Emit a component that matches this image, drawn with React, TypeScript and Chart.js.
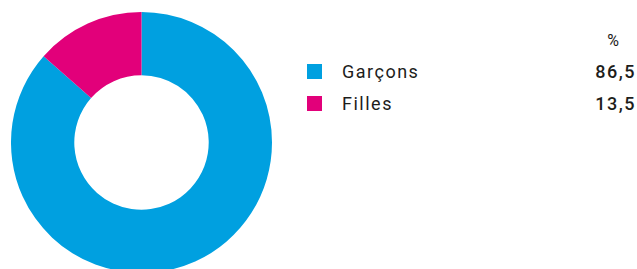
import React, { useEffect, useRef } from "react";
import { Chart, registerables } from "chart.js";

Chart.register(...registerables);

const categories = ["Garçons", "Filles"];
const values = [86.5, 13.5];
const valueLabels = ["86,5", "13,5"];
const colors = ["#00A0E0", "#E2007A"];
const unitLabel = "%";

export default function App() {
  const canvasRef = useRef<HTMLCanvasElement | null>(null);

  useEffect(() => {
    if (!canvasRef.current) return;
    const chart = new Chart(canvasRef.current, {
      type: "doughnut",
      data: {
        labels: categories,
        datasets: [
          {
            data: values,
            backgroundColor: colors,
            borderWidth: 0,
            hoverOffset: 0,
          },
        ],
      },
      options: {
        responsive: false,
        animation: false,
        cutout: "51.5%",
        rotation: 0,
        layout: { padding: 0 },
        plugins: {
          legend: { display: false },
          tooltip: { enabled: false },
        },
      },
    });
    return () => chart.destroy();
  }, []);

  const font = "Roboto, 'Noto Sans', sans-serif";
  const textColor = "#1d1d1b";

  return (
    <div
      style={{
        position: "absolute",
        left: 0,
        top: 0,
        width: 637,
        height: 269,
        overflow: "hidden",
        background: "#fff",
        fontFamily: font,
        color: textColor,
      }}
    >
      <canvas
        ref={canvasRef}
        width={261}
        height={261}
        style={{ position: "absolute", left: 11, top: 12, width: 261, height: 261 }}
      />
      <div
        style={{
          position: "absolute",
          right: 17,
          top: 33,
          fontSize: 16,
          lineHeight: "16px",
          letterSpacing: "1px",
        }}
      >
        {unitLabel}
      </div>
      {categories.map((c, i) => (
        <React.Fragment key={c}>
          <div
            style={{
              position: "absolute",
              left: 307,
              top: 64 + i * 31.7,
              width: 15,
              height: 15,
              background: colors[i],
            }}
          />
          <div
            style={{
              position: "absolute",
              left: 342,
              top: 63 + i * 31.7,
              fontSize: 18,
              lineHeight: "18px",
              letterSpacing: "1.5px",
              whiteSpace: "nowrap",
            }}
          >
            {c}
          </div>
          <div
            style={{
              position: "absolute",
              right: 1,
              top: 63 + i * 31.7,
              fontSize: 18,
              lineHeight: "18px",
              letterSpacing: "1.5px",
              fontWeight: 500,
              whiteSpace: "nowrap",
            }}
          >
            {valueLabels[i]}
          </div>
        </React.Fragment>
      ))}
    </div>
  );
}
